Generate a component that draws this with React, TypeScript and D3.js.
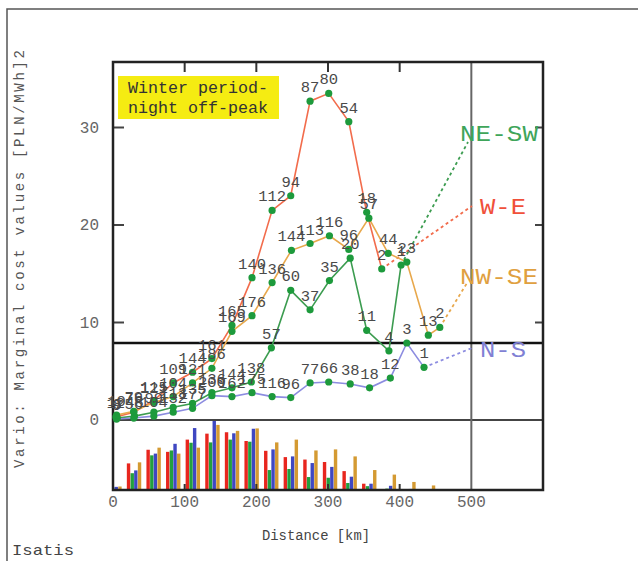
import React from "react";
import * as d3 from "d3";

// experimental variogram, one set of arrays per direction (distance km, value, pair count)
const distWE = [4, 29, 57, 84, 111, 138, 166, 194, 222, 248, 275, 301, 329, 354, 375];
const valWE = [0.3, 0.8, 2.0, 3.8, 4.9, 6.3, 9.7, 14.6, 21.5, 23.0, 32.7, 33.5, 30.6, 21.3, 15.5];
const cntWE = [12, 76, 115, 109, 144, 161, 165, 140, 112, 94, 87, 80, 54, 18, 2];

const distNESW = [6, 30, 57, 84, 111, 138, 166, 193, 221, 248, 275, 302, 331, 354, 385, 402];
const valNESW = [0.2, 0.4, 0.8, 1.3, 1.7, 2.8, 3.3, 3.9, 7.4, 13.3, 11.3, 14.3, 16.6, 9.2, 7.1, 15.9];
const cntNESW = [8, 48, 99, 113, 135, 136, 144, 138, 57, 60, 37, 35, 20, 11, 4, 1];

const distNS = [5, 29, 57, 84, 111, 138, 166, 194, 222, 248, 275, 301, 331, 358, 387, 410, 434];
const valNS = [0.1, 0.2, 0.4, 0.8, 1.2, 2.5, 2.4, 2.8, 2.4, 2.3, 3.8, 3.9, 3.7, 3.3, 4.3, 7.9, 5.4];
const cntNS = [9, 56, 104, 132, 177, 200, 162, 175, 116, 96, 77, 66, 38, 18, 12, 3, 1];

const distNWSE = [5, 29, 57, 84, 111, 138, 166, 194, 222, 249, 275, 302, 329, 357, 384, 410, 440, 456];
const valNWSE = [0.5, 0.9, 1.8, 2.4, 3.8, 5.3, 9.1, 10.7, 14.1, 17.4, 18.1, 18.9, 17.5, 20.7, 17.1, 16.2, 8.7, 9.5];
const cntNWSE = [10, 79, 121, 104, 121, 186, 169, 176, 136, 144, 113, 116, 96, 57, 44, 23, 13, 2];

const xTicks = [0, 100, 200, 300, 400, 500];
const yTicks = [0, 10, 20, 30];
const sill = 7.9;
const lag = 27.35;

const mono = "'Courier New', 'Liberation Mono', monospace";

const plot = { left: 113, right: 543, top: 62, bottom: 490 };
const xScale = d3.scaleLinear().domain([0, 600]).range([plot.left, plot.right]);
const yScale = d3.scaleLinear().domain([0, 30]).range([420, 127.5]);
const cScale = d3.scaleLinear().domain([0, 200]).range([plot.bottom, 420]);

const series = [
  { name: "W-E", dist: distWE, val: valWE, cnt: cntWE, line: "#f26c4c", bar: "#e8261e", text: "#f0503a", lx: 472, ly: 206, tx: 480, tw: 46, ty: 214 },
  { name: "NE-SW", dist: distNESW, val: valNESW, cnt: cntNESW, line: "#3c9c50", bar: "#22a03e", text: "#3fa55a", lx: 468, ly: 142, tx: 460, tw: 78, ty: 141 },
  { name: "N-S", dist: distNS, val: valNS, cnt: cntNS, line: "#8c8ce0", bar: "#3f47c2", text: "#8080d4", lx: 472, ly: 348, tx: 480, tw: 46, ty: 357 },
  { name: "NW-SE", dist: distNWSE, val: valNWSE, cnt: cntNWSE, line: "#e8a84c", bar: "#d49a32", text: "#e0a040", lx: 467, ly: 283, tx: 460, tw: 78, ty: 284 },
];
const barOffsets = [-5.5, -1.8, 1.8, 5.5];

const line = d3.line<number>();

export default function App() {
  return (
    <svg width={638} height={561} style={{ position: "absolute", left: 0, top: 0, background: "#fff" }}>
      <defs>
        <clipPath id="plotClip">
          <rect x={plot.left} y={plot.top} width={plot.right - plot.left} height={plot.bottom - plot.top} />
        </clipPath>
      </defs>
      {/* outer frame */}
      <rect x={7} y={9} width={700} height={600} fill="none" stroke="#555" strokeWidth={1.5} />

      {/* histogram of pair counts */}
      <g clipPath="url(#plotClip)">
        {series.map((s, j) =>
          s.cnt.map((c, i) => {
            const cx = xScale(i * lag + 2) + barOffsets[j];
            return <rect key={s.name + i} x={cx - 1.7} y={cScale(c)} width={3.4} height={plot.bottom - cScale(c)} fill={s.bar} />;
          })
        )}
      </g>

      {/* reference lines */}
      <line x1={plot.left} x2={plot.right} y1={yScale(0)} y2={yScale(0)} stroke="#444" strokeWidth={2} />
      <line x1={xScale(500)} x2={xScale(500)} y1={plot.top} y2={plot.bottom} stroke="#666" strokeWidth={2} />
      <line x1={plot.left} x2={plot.right} y1={yScale(sill)} y2={yScale(sill)} stroke="#111" strokeWidth={2.5} />

      {/* ticks */}
      {xTicks.filter(t => t > 0 && t < 500).map(t => (
        <g key={"xt" + t}>
          <line x1={xScale(t)} x2={xScale(t)} y1={plot.top} y2={plot.top + 10} stroke="#333" strokeWidth={2} />
          <line x1={xScale(t)} x2={xScale(t)} y1={plot.bottom} y2={plot.bottom - 6} stroke="#333" strokeWidth={2} />
        </g>
      ))}
      {yTicks.filter(t => t > 0).map(t => (
        <g key={"yt" + t}>
          <line x1={plot.left} x2={plot.left + 11} y1={yScale(t)} y2={yScale(t)} stroke="#444" strokeWidth={2} />
          <line x1={plot.right} x2={plot.right - 8} y1={yScale(t)} y2={yScale(t)} stroke="#444" strokeWidth={2} />
        </g>
      ))}

      {/* plot box */}
      <rect x={plot.left} y={plot.top} width={plot.right - plot.left} height={plot.bottom - plot.top} fill="none" stroke="#222" strokeWidth={2.5} />

      {/* title box */}
      <rect x={118} y={76} width={161} height={43} fill="#f5ec12" />
      <text x={128} y={93} fontFamily={mono} fontSize={16.5} fill="#333" textLength={140} lengthAdjust="spacingAndGlyphs">Winter period-</text>
      <text x={128} y={113} fontFamily={mono} fontSize={16.5} fill="#333" textLength={140} lengthAdjust="spacingAndGlyphs">night off-peak</text>

      {/* dotted connectors to direction names */}
      {series.map(s => {
        const n = s.dist.length - 1;
        return (
          <line key={"d" + s.name} x1={xScale(s.dist[n])} y1={yScale(s.val[n])} x2={s.lx} y2={s.ly}
            stroke={s.line} strokeWidth={1.8} strokeDasharray="3,3" />
        );
      })}

      {/* variogram lines */}
      {series.map(s => (
        <path key={"l" + s.name} d={line(s.dist.map((d, i) => [xScale(d), yScale(s.val[i])]) as any) || ""}
          fill="none" stroke={s.line} strokeWidth={1.6} />
      ))}
      {series.map(s =>
        s.dist.map((d, i) => (
          <circle key={"p" + s.name + i} cx={xScale(d)} cy={yScale(s.val[i])} r={3.6} fill="#1d9a3c" />
        ))
      )}
      {series.map(s =>
        s.dist.map((d, i) => (
          <text key={"t" + s.name + i} x={xScale(d)} y={yScale(s.val[i]) - 9} textAnchor="middle"
            fontFamily={mono} fontSize={15.5} fill="#4a4a4a">{s.cnt[i]}</text>
        ))
      )}

      {/* direction names */}
      {series.map(s => (
        <text key={"n" + s.name} x={s.tx} y={s.ty} fontFamily={mono} fontSize={22} fill={s.text}
          textLength={s.tw} lengthAdjust="spacingAndGlyphs">{s.name}</text>
      ))}

      {/* axis labels */}
      {xTicks.map(t => (
        <text key={"xl" + t} x={xScale(t)} y={507} textAnchor="middle" fontFamily={mono} fontSize={16} fill="#666">{t}</text>
      ))}
      {yTicks.map(t => (
        <text key={"yl" + t} x={99} y={yScale(t) + 5} textAnchor="end" fontFamily={mono} fontSize={16} fill="#666">{t}</text>
      ))}
      <text x={316} y={540} textAnchor="middle" fontFamily={mono} fontSize={14} fill="#444" textLength={108} lengthAdjust="spacingAndGlyphs">Distance [km]</text>
      <text transform="translate(24,259) rotate(-90)" textAnchor="middle" fontFamily={mono} fontSize={14} fill="#555"
        textLength={418} lengthAdjust="spacing">Vario: Marginal cost values [PLN/MWh]2</text>
      <text x={12} y={555} fontFamily={mono} fontSize={15} fill="#444" textLength={62} lengthAdjust="spacingAndGlyphs">Isatis</text>
    </svg>
  );
}
